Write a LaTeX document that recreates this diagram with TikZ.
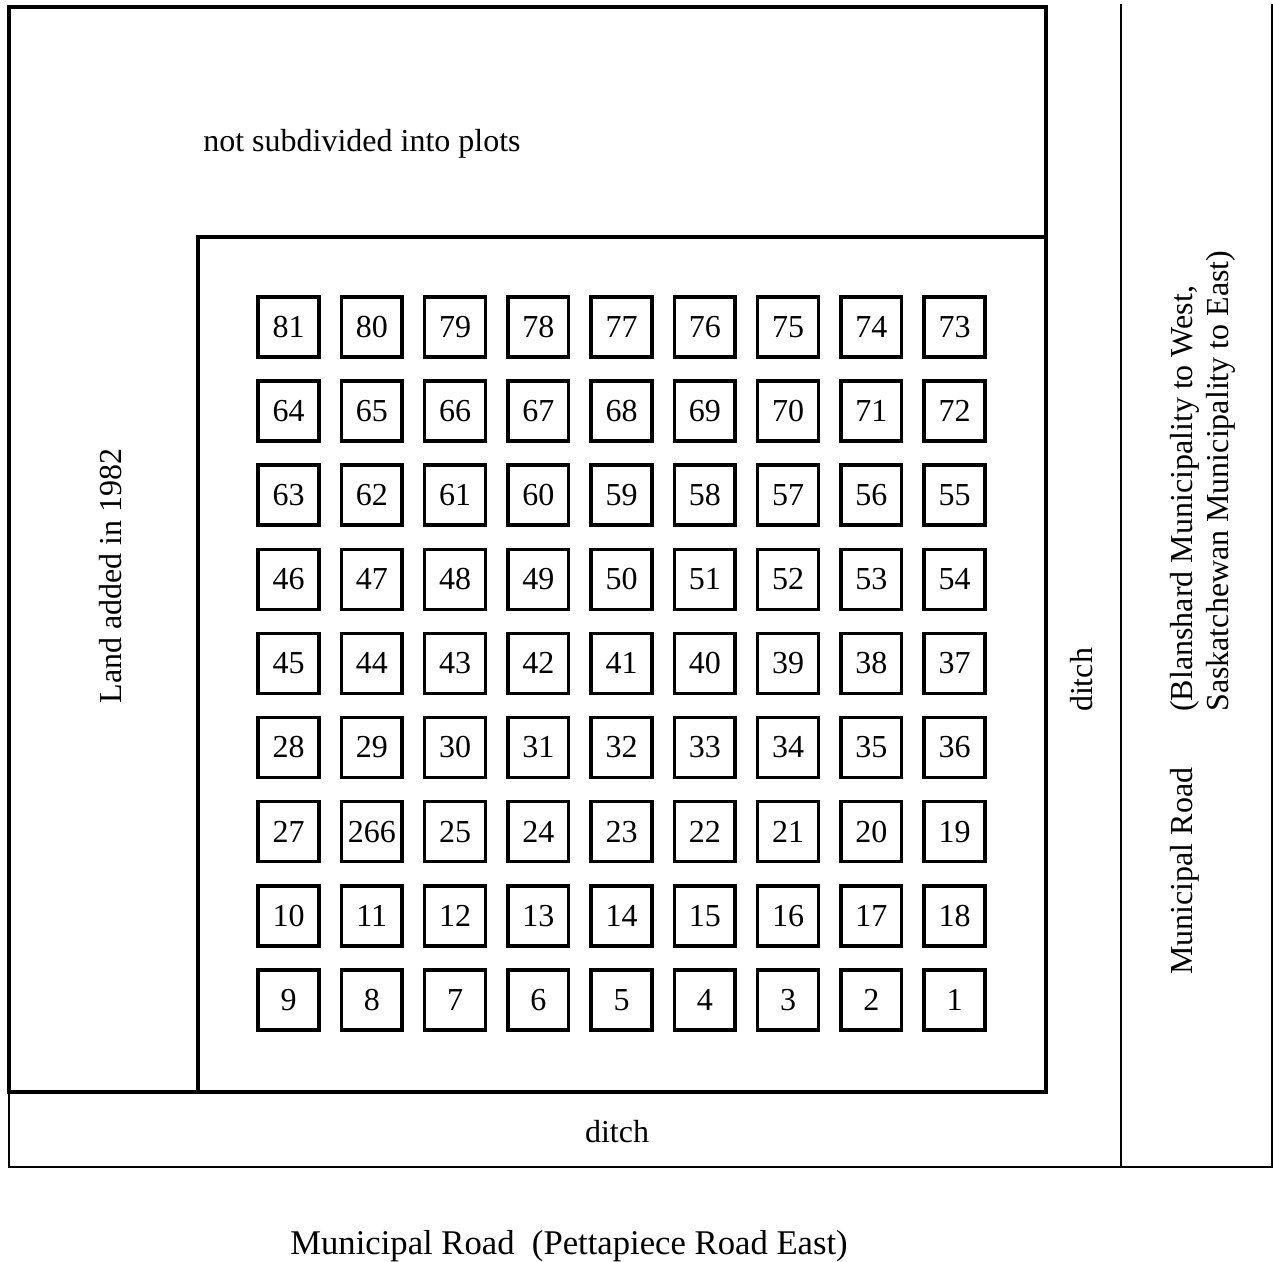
\documentclass[tikz,border=0pt]{standalone}
\usepackage{fontspec}
\setmainfont{Liberation Serif}
\begin{document}
\begin{tikzpicture}[x=0.75pt,y=-0.75pt,
  thickline/.style={line width=3pt},
  thinline/.style={line width=1.9pt},
  plot/.style={draw,line width=2.7pt,minimum width=45.5pt,minimum height=45pt,inner sep=0pt,font=\fontsize{24}{28}\selectfont},
  lbl/.style={inner sep=0pt,font=\fontsize{24}{28}\selectfont}]
\useasboundingbox (0,0) rectangle (1273,1262);
% thin road / ditch lines
\draw[thinline] (9,1091) -- (9,1167) -- (1272,1167) -- (1272,4);
\draw[thinline] (1121,4) -- (1121,1167);
% thick land outlines
\draw[thickline] (9,7) rectangle (1046,1092);
\draw[thickline] (198,1092) -- (198,237) -- (1046,237);
% plots
\foreach \row [count=\r from 0] in {
  {81,80,79,78,77,76,75,74,73},
  {64,65,66,67,68,69,70,71,72},
  {63,62,61,60,59,58,57,56,55},
  {46,47,48,49,50,51,52,53,54},
  {45,44,43,42,41,40,39,38,37},
  {28,29,30,31,32,33,34,35,36},
  {27,266,25,24,23,22,21,20,19},
  {10,11,12,13,14,15,16,17,18},
  {9,8,7,6,5,4,3,2,1}}{
  \foreach \n [count=\c from 0] in \row {
    \node[plot] (p\n) at ({288.5+83.25*\c},{327+84.1*\r}) {\n};
  }
}
% labels
\node[lbl,anchor=base west] (nsub) at (203,152) {not subdivided into plots};
\node[lbl,rotate=90,anchor=base] (land) at (121,576) {Land added in 1982};
\node[lbl,rotate=90,anchor=base] (ditchr) at (1092,680) {ditch};
\node[lbl,anchor=base] (ditchb) at (617,1142) {ditch};
\node[lbl,rotate=90,anchor=base west] (mroad) at (1192,975) {Municipal Road};
\node[lbl,rotate=90,anchor=base west] (bl) at (1192,712) {(Blanshard Municipality to West,};
\node[lbl,rotate=90,anchor=base west] (sk) at (1228,712) {Saskatchewan Municipality to East)};
\node[lbl,anchor=base west,font=\fontsize{26}{30}\selectfont] (proad) at (290,1254) {Municipal Road\ \ (Pettapiece Road East)};
\end{tikzpicture}
\end{document}
